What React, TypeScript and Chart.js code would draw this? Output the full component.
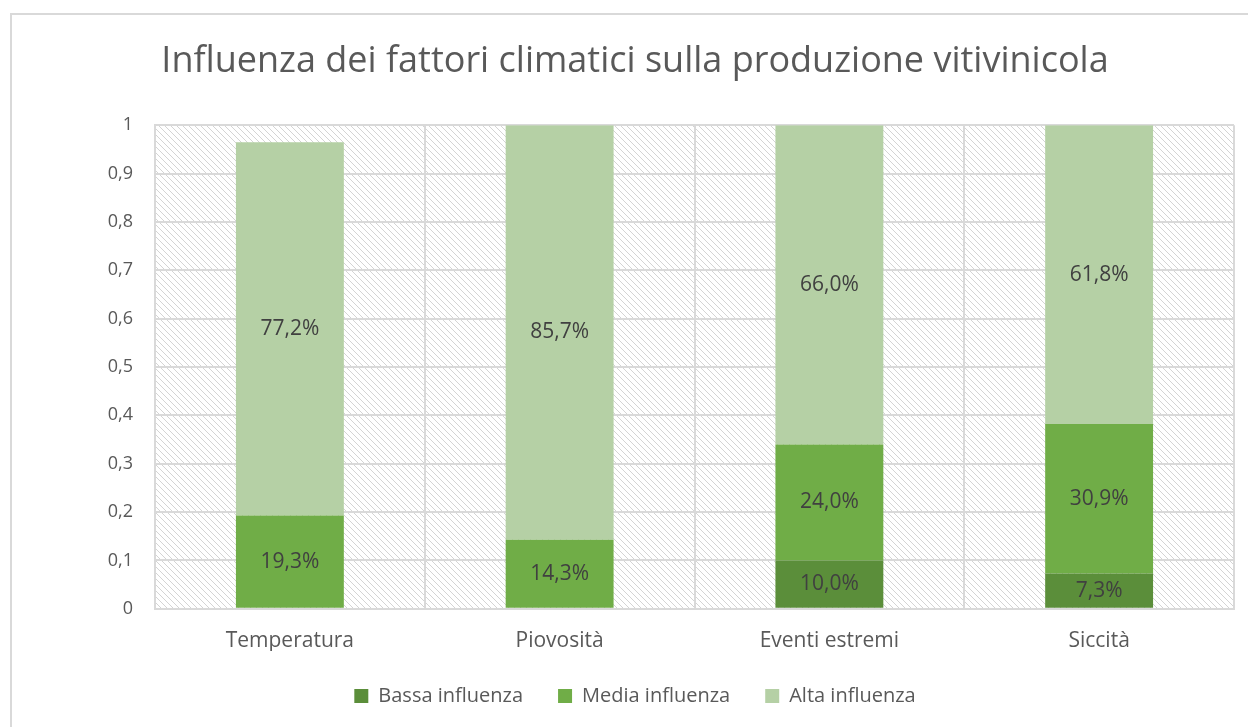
import React, { useEffect, useRef } from "react";
import { Chart, registerables } from "chart.js";

Chart.register(...registerables);

const categories = ["Temperatura", "Piovosità", "Eventi estremi", "Siccità"];
const bassaInfluenza = [0, 0, 0.1, 0.073];
const mediaInfluenza = [0.193, 0.143, 0.24, 0.309];
const altaInfluenza = [0.772, 0.857, 0.66, 0.618];
const yTicks = [0, 0.1, 0.2, 0.3, 0.4, 0.5, 0.6, 0.7, 0.8, 0.9, 1];
const seriesNames = ["Bassa influenza", "Media influenza", "Alta influenza"];
const seriesColors = ["#5B8E3A", "#70AD47", "#B5D0A5"];

const FONT = "'Open Sans', 'DejaVu Sans', sans-serif";
const TEXT = "#595959";

function makePattern(): CanvasPattern | string {
  const c = document.createElement("canvas");
  const s = 6;
  c.width = s;
  c.height = s;
  const g = c.getContext("2d");
  if (!g) return "#fff";
  g.fillStyle = "#ffffff";
  g.fillRect(0, 0, s, s);
  g.strokeStyle = "#d4d4d4";
  g.lineWidth = 1;
  g.beginPath();
  g.moveTo(-1, -1);
  g.lineTo(s + 1, s + 1);
  g.moveTo(-1, s - 1);
  g.lineTo(1, s + 1);
  g.moveTo(s - 1, -1);
  g.lineTo(s + 1, 1);
  g.stroke();
  const p = g.createPattern(c, "repeat");
  return p || "#fff";
}

const hatchPlugin = {
  id: "hatchBg",
  beforeDraw(chart: any) {
    const { ctx, chartArea } = chart;
    if (!chartArea) return;
    ctx.save();
    ctx.fillStyle = makePattern();
    ctx.fillRect(chartArea.left, chartArea.top, chartArea.right - chartArea.left, chartArea.bottom - chartArea.top);
    ctx.restore();
  },
};

const labelPlugin = {
  id: "segLabels",
  afterDatasetsDraw(chart: any) {
    const { ctx } = chart;
    ctx.save();
    ctx.font = `21px ${FONT}`;
    ctx.fillStyle = "#404040";
    ctx.textAlign = "center";
    ctx.textBaseline = "middle";
    chart.data.datasets.forEach((ds: any, di: number) => {
      const meta = chart.getDatasetMeta(di);
      meta.data.forEach((bar: any, i: number) => {
        const v = ds.data[i];
        if (!v) return;
        const y = (bar.y + bar.base) / 2;
        ctx.fillText((v * 100).toFixed(1).replace(".", ",") + "%", bar.x, y);
      });
    });
    ctx.restore();
  },
};

export default function App() {
  const ref = useRef<HTMLCanvasElement>(null);
  useEffect(() => {
    if (!ref.current) return;
    const chart = new Chart(ref.current, {
      type: "bar",
      data: {
        labels: categories,
        datasets: [bassaInfluenza, mediaInfluenza, altaInfluenza].map((d, i) => ({
          label: seriesNames[i],
          data: d,
          backgroundColor: seriesColors[i],
          borderWidth: 0,
          categoryPercentage: 1,
          barPercentage: 0.4,
        })),
      },
      options: {
        animation: false,
        responsive: false,
        layout: { padding: { left: 0, right: 0, top: 0, bottom: 11 } },
        plugins: {
          title: {
            display: true,
            text: "Influenza dei fattori climatici sulla produzione vitivinicola",
            color: TEXT,
            font: { family: FONT, size: 36, weight: "normal" },
            padding: { top: 25, bottom: 42 },
          },
          legend: {
            position: "bottom",
            labels: {
              color: TEXT,
              font: { family: FONT, size: 20 },
              boxWidth: 14,
              boxHeight: 14,
              padding: 35,
            },
          },
          tooltip: { enabled: false },
        },
        scales: {
          x: {
            stacked: true,
            afterFit(scale: any) {
              scale.height = scale.height - 23;
            },
            grid: { color: "#d9d9d9", lineWidth: 2, offset: true, drawTicks: false },
            border: { color: "#d9d9d9", width: 2 },
            ticks: { color: TEXT, font: { family: FONT, size: 21 }, padding: 20 },
          },
          y: {
            stacked: true,
            min: 0,
            max: 1,
            afterBuildTicks(scale: any) {
              scale.ticks = yTicks.map((v) => ({ value: v }));
            },
            afterFit(scale: any) {
              scale.width = 143;
            },
            grid: { color: "#d9d9d9", lineWidth: 2, drawTicks: false },
            border: { color: "#d9d9d9", width: 2 },
            ticks: {
              color: TEXT,
              font: { family: FONT, size: 18 },
              padding: 22,
              callback: (v: any) => String(Math.round(Number(v) * 10) / 10).replace(".", ","),
            },
          },
          spacer: {
            type: "linear",
            position: "right",
            display: true,
            afterFit(scale: any) {
              scale.width = 24;
            },
            grid: { display: false, drawTicks: false },
            border: { display: false },
            ticks: { display: false },
          },
        },
      },
      plugins: [hatchPlugin, labelPlugin],
    });
    return () => chart.destroy();
  }, []);
  return (
    <div
      style={{
        position: "fixed",
        left: 10,
        top: 13,
        width: 1250,
        height: 730,
        border: "2px solid #d9d9d9",
        boxSizing: "border-box",
        background: "#fff",
      }}
    >
      <canvas ref={ref} width={1246} height={712} style={{ display: "block" }} />
    </div>
  );
}
